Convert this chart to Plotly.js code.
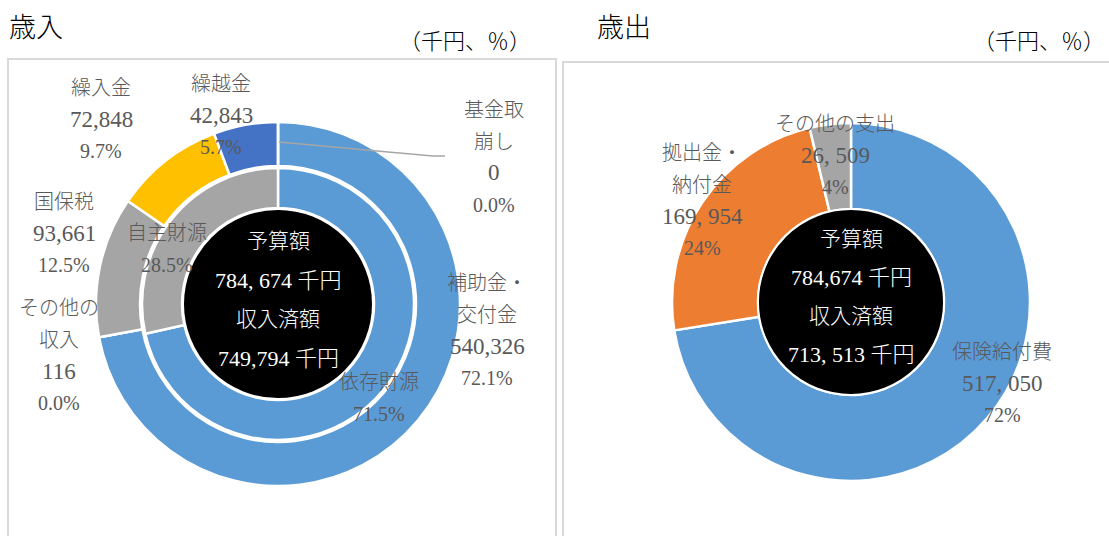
<!DOCTYPE html>
<html><head><meta charset="utf-8">
<script src="https://cdn.plot.ly/plotly-3.0.1.min.js"></script>
<style>html,body{margin:0;padding:0;background:#fff}#chart{width:1109px;height:536px}</style>
</head><body><div id="chart"></div>
<script>
// ---------------- data ----------------
const revenueCategories = ['補助金・交付金', 'その他の収入', '国保税', '繰入金', '繰越金', '基金取崩し'];
const revenueValues = [540326, 116, 93661, 72848, 42843, 0];
const sourceCategories = ['依存財源', '自主財源'];
const sourcePercents = [71.5, 28.5];
const expenseCategories = ['保険給付費', '拠出金・納付金', 'その他の支出'];
const expenseValues = [517050, 169954, 26509];
const budgetAmount = 784674;
const panelTitles = ['歳入', '歳出'];
const unitLabel = '（千円、％）';
const centerLabels = ['予算額', '収入済額'];
const yenUnit = '千円';

// ---------------- style ----------------
const W = 1109, H = 536;
const revenueColors = ['#5B9BD5', '#ED7D31', '#A5A5A5', '#FFC000', '#4472C4', '#70AD47'];
const sourceColors = ['#5B9BD5', '#A5A5A5'];
const expenseColors = ['#5B9BD5', '#ED7D31', '#A5A5A5'];
const FONT = "'Liberation Serif', 'Noto Sans CJK JP', serif";
const LABEL_COLOR = '#595959';
const TEXT_SIZE = 20;
const NUM_SIZE = 23;
const LINE_H = 31.5;
const WEIGHT = 300;

const L = {cx: 278, cy: 304, rOuter: 182, rOuterHole: 138, rInner: 136, rInnerHole: 96, rBlack: 95};
const R = {cx: 851, cy: 302, r: 179, rHole: 93, rBlack: 93};

// label placement (first line center) and line splitting
const revenueLabelPos = {
  '補助金・交付金': {x: 487, y: 283, name: ['補助金・', '交付金']},
  'その他の収入': {x: 59, y: 308, name: ['その他の', '収入']},
  '国保税': {x: 64, y: 202, name: ['国保税']},
  '繰入金': {x: 101, y: 88, name: ['繰入金']},
  '繰越金': {x: 221, y: 84, name: ['繰越金']},
  '基金取崩し': {x: 494, y: 110, name: ['基金取', '崩し']}
};
const sourceLabelPos = {
  '依存財源': {x: 379, y: 382},
  '自主財源': {x: 167, y: 233}
};
const expenseLabelPos = {
  '保険給付費': {x: 1002, y: 352, name: ['保険給付費']},
  '拠出金・納付金': {x: 702, y: 153, name: ['拠出金・', '納付金']},
  'その他の支出': {x: 835, y: 124, name: ['その他の支出']}
};

function dom(cx, cy, r) {
  return {x: [(cx - r) / W, (cx + r) / W], y: [1 - (cy + r) / H, 1 - (cy - r) / H]};
}
function px(x) { return x / W; }
function py(y) { return 1 - y / H; }
const fmt = v => v.toLocaleString('en-US');
const fmtSp = v => v.toLocaleString('en-US').replace(/,/g, ', ');

const annotations = [];
function addLines(x, y, lines, color, lh, numSize, textSize) {
  lines.forEach((t, i) => {
    const isNum = /^[\d, ]+$/.test(t);
    annotations.push({
      x: px(x), y: py(y + i * (lh || LINE_H)), xref: 'paper', yref: 'paper',
      text: t, showarrow: false, xanchor: 'center', yanchor: 'middle',
      font: {family: FONT, size: isNum ? (numSize || NUM_SIZE) : (textSize || TEXT_SIZE),
        color: color || LABEL_COLOR, weight: WEIGHT}
    });
  });
}

const revenueTotal = revenueValues.reduce((a, b) => a + b, 0);
const expenseTotal = expenseValues.reduce((a, b) => a + b, 0);

revenueCategories.forEach((c, i) => {
  const p = revenueLabelPos[c];
  addLines(p.x, p.y, p.name.concat([fmt(revenueValues[i]), (revenueValues[i] / revenueTotal * 100).toFixed(1) + '%']));
});
sourceCategories.forEach((c, i) => {
  const p = sourceLabelPos[c];
  addLines(p.x, p.y, [c, sourcePercents[i].toFixed(1) + '%']);
});
expenseCategories.forEach((c, i) => {
  const p = expenseLabelPos[c];
  addLines(p.x, p.y, p.name.concat([fmtSp(expenseValues[i]), Math.round(expenseValues[i] / expenseTotal * 100) + '%']));
});

// centre texts (white)
function centerLines(cx, y0, lh, lines) {
  lines.forEach((t, i) => {
    annotations.push({
      x: px(cx), y: py(y0 + i * lh), xref: 'paper', yref: 'paper', text: t, showarrow: false,
      xanchor: 'center', yanchor: 'middle',
      font: {family: FONT, size: i % 2 ? 22 : 21, color: '#FFFFFF', weight: WEIGHT}
    });
  });
}
centerLines(L.cx, 241, 39, [centerLabels[0], fmtSp(budgetAmount) + ' ' + yenUnit, centerLabels[1], fmt(revenueTotal) + ' ' + yenUnit]);
centerLines(R.cx, 239, 38.5, [centerLabels[0], fmt(budgetAmount) + ' ' + yenUnit, centerLabels[1], fmtSp(expenseTotal) + ' ' + yenUnit]);

// titles
function title(x, y, text, anchor, size) {
  annotations.push({x: px(x), y: py(y), xref: 'paper', yref: 'paper', text: text, showarrow: false,
    xanchor: anchor, yanchor: 'middle', font: {family: FONT, size: size, color: '#000', weight: WEIGHT}});
}
title(7, 28, panelTitles[0], 'left', 27);
title(595, 28, panelTitles[1], 'left', 27);
title(533, 41, unitLabel, 'right', 22);
title(1107, 41, unitLabel, 'right', 22);

const baseSlice = {type: 'pie', sort: false, direction: 'clockwise', rotation: 0,
  textinfo: 'none', hoverinfo: 'label+value', showlegend: false};

const traces = [
  Object.assign({}, baseSlice, {labels: revenueCategories, values: revenueValues,
    hole: L.rOuterHole / L.rOuter, domain: dom(L.cx, L.cy, L.rOuter),
    marker: {colors: revenueColors, line: {color: '#FFFFFF', width: 2.5}}}),
  Object.assign({}, baseSlice, {labels: sourceCategories, values: sourcePercents,
    hole: L.rInnerHole / L.rInner, domain: dom(L.cx, L.cy, L.rInner),
    marker: {colors: sourceColors, line: {color: '#FFFFFF', width: 2.5}}}),
  Object.assign({}, baseSlice, {labels: ['center'], values: [1], hoverinfo: 'skip',
    domain: dom(L.cx, L.cy, L.rBlack), marker: {colors: ['#000000'], line: {color: '#FFFFFF', width: 2}}}),
  Object.assign({}, baseSlice, {labels: expenseCategories, values: expenseValues,
    hole: R.rHole / R.r, domain: dom(R.cx, R.cy, R.r),
    marker: {colors: expenseColors, line: {color: '#FFFFFF', width: 2.5}}}),
  Object.assign({}, baseSlice, {labels: ['center2'], values: [1], hoverinfo: 'skip',
    domain: dom(R.cx, R.cy, R.rBlack), marker: {colors: ['#000000'], line: {color: '#FFFFFF', width: 2}}})
];

const shapes = [
  {type: 'rect', xref: 'paper', yref: 'paper', x0: px(8), x1: px(556), y0: py(59), y1: py(545),
    line: {color: '#D9D9D9', width: 2}, fillcolor: 'rgba(0,0,0,0)', layer: 'below'},
  {type: 'rect', xref: 'paper', yref: 'paper', x0: px(563), x1: px(1120), y0: py(62), y1: py(545),
    line: {color: '#D9D9D9', width: 2}, fillcolor: 'rgba(0,0,0,0)', layer: 'below'},
  {type: 'path', xref: 'paper', yref: 'paper',
    path: 'M ' + px(279) + ',' + py(142) + ' L ' + px(377) + ',' + py(151) + ' L ' + px(433) + ',' + py(156) + ' L ' + px(445) + ',' + py(156),
    line: {color: '#A6A6A6', width: 1.5}}
];

const layout = {
  width: W, height: H, margin: {l: 0, r: 0, t: 0, b: 0},
  paper_bgcolor: '#FFFFFF', plot_bgcolor: '#FFFFFF',
  showlegend: false, annotations: annotations, shapes: shapes
};

Plotly.newPlot('chart', traces, layout, {staticPlot: true, displayModeBar: false});
</script>
</body></html>
